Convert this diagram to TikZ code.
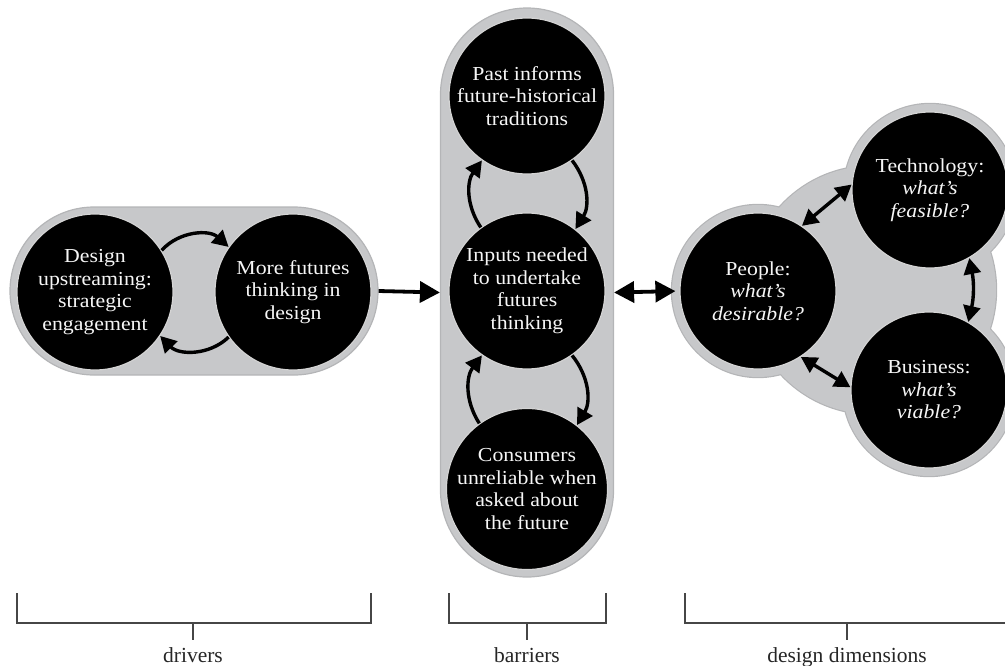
\documentclass[tikz,border=0pt]{standalone}
\usepackage{fontspec}
\setmainfont[FakeStretch=1.1]{Liberation Serif}
\newfontfamily\captionfont{Liberation Serif}
\usetikzlibrary{arrows.meta,calc}

\definecolor{panelgray}{RGB}{199,200,202}
\definecolor{paneledge}{RGB}{180,181,183}
\definecolor{ringgray}{RGB}{212,212,212}
\definecolor{textwhite}{RGB}{246,246,246}
\definecolor{bracketgray}{RGB}{70,70,70}

\tikzset{
  idea/.style={circle, fill=black, draw=ringgray, line width=1.2pt,
    minimum size=156pt, inner sep=0pt, align=center, text=textwhite,
    font=\fontsize{19.8}{22.5}\selectfont},
  panel/.style={rectangle, fill=panelgray, draw=paneledge, line width=1.2pt, inner sep=0pt},
  cyclearrow/.style={line width=3.4pt, -{Triangle[length=16pt,width=17pt]}},
  pairarrow/.style={line width=3.4pt, {Triangle[length=16pt,width=17pt]}-{Triangle[length=16pt,width=17pt]}},
  flowarrow/.style={line width=3.8pt, -{Triangle[length=20pt,width=21pt]}},
  flowpair/.style={line width=3.8pt, {Triangle[length=20pt,width=21pt]}-{Triangle[length=20pt,width=21pt]}},
  bracket/.style={draw=bracketgray, line width=1.1pt},
  caption/.style={font=\captionfont\fontsize{21.5}{24}\selectfont, text=black!85, anchor=base}
}

\begin{document}
\begin{tikzpicture}[x=1pt,y=-1pt]
\useasboundingbox (0,0) rectangle (1005,665);

% centres of the three design dimensions
\coordinate (pc) at (758,291);
\coordinate (tc) at (930,190);
\coordinate (bc) at (929,390);
\coordinate (hub) at (872,290);

% grey backdrop behind the design dimensions
\draw[paneledge, line width=2.4pt] (hub) circle[radius=124] (pc) circle[radius=86]
  (tc) circle[radius=86] (bc) circle[radius=86];
\fill[panelgray] (hub) circle[radius=124] (pc) circle[radius=86]
  (tc) circle[radius=86] (bc) circle[radius=86];

% panels
\node[panel, minimum width=368pt, minimum height=168pt, rounded corners=84pt] (drvpanel) at (194,291) {};
\node[panel, minimum width=173pt, minimum height=569pt, rounded corners=86.5pt] (barpanel) at (527,292.5) {};

% drivers
\node[idea] (upstream) at (95,292) {Design\\upstreaming:\\strategic\\engagement};
\node[idea] (futures) at (293,292) {More futures\\thinking in\\design};

% barriers
\node[idea] (past) at (527,96) {Past informs\\future-historical\\traditions};
\node[idea] (inputs) at (527,291) {Inputs needed\\to undertake\\futures\\thinking};
\node[idea] (consumers) at (527,489) {Consumers\\unreliable when\\asked about\\the future};

% design dimensions
\node[idea] (people) at (pc) {People:\\\textit{what’s}\\\textit{desirable?}};
\node[idea] (tech) at (tc) {Technology:\\\textit{what’s}\\\textit{feasible?}};
\node[idea] (business) at (bc) {Business:\\\textit{what’s}\\\textit{viable?}};

% reinforcing loops
\draw[cyclearrow] (upstream.32) to[bend left=45] (futures.145);
\draw[cyclearrow] (futures.215) to[bend left=45] (upstream.326);
\draw[cyclearrow] (past.-55) to[bend left=35] (inputs.52);
\draw[cyclearrow] (inputs.126) to[bend left=35] (past.235);
\draw[cyclearrow] (inputs.-55) to[bend left=35] (consumers.52);
\draw[cyclearrow] (consumers.126) to[bend left=35] (inputs.235);

% links between the dimensions
\draw[pairarrow] (people.56) -- (tech.176);
\draw[pairarrow] (tech.300) to[bend left=12] (business.60);
\draw[pairarrow] (people.-57) -- (business.178);

% links between the groups
\draw[flowarrow] (drvpanel.east) -- (barpanel.west);
\draw[flowpair, shorten >=4pt] (barpanel.east) -- (people.west);

% group brackets
\coordinate (d0) at (17,593);
\coordinate (d1) at (371,593);
\draw[bracket] (d0) -- (17,623) -- (371,623) -- (d1);
\draw[bracket] (193,623) -- (193,640);
\node[caption] (drivers) at (193,662) {drivers};

\coordinate (b0) at (449,593);
\coordinate (b1) at (606,593);
\draw[bracket] (b0) -- (449,623) -- (606,623) -- (b1);
\draw[bracket] (527,623) -- (527,640);
\node[caption] (barriers) at (527,662) {barriers};

\coordinate (m0) at (685,593);
\coordinate (m1) at (1009,593);
\draw[bracket] (m0) -- (685,623) -- (1009,623) -- (m1);
\draw[bracket] (847,623) -- (847,640);
\node[caption] (dimensions) at (847,662) {design dimensions};
\end{tikzpicture}
\end{document}
